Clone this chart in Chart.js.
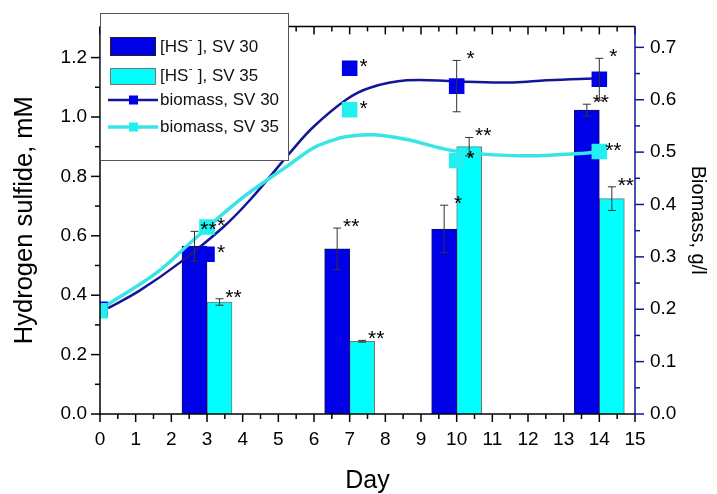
<!DOCTYPE html>
<html>
<head>
<meta charset="utf-8">
<script src="https://cdn.jsdelivr.net/npm/chart.js@4.4.0/dist/chart.umd.min.js"></script>
<style>body{margin:0;background:#fff}</style>
</head>
<body>
<canvas id="chart" width="717" height="494"></canvas>
<script>
// sampling days for hydrogen sulfide
var days = [3, 7, 10, 14];
var hs30 = [0.565, 0.556, 0.623, 1.023];
var hs30Err = [0.05, 0.07, 0.08, 0.02];
var hs35 = [0.377, 0.245, 0.9, 0.725];
var hs35Err = [0.011, 0.003, 0.031, 0.04];
var hs30Stars = ['**', '**', '*', '**'];
var hs35Stars = ['**', '**', '**', '**'];

// biomass measurements
var bioDays = [0, 3, 7, 10, 14];
var bio30 = [0.2, 0.305, 0.66, 0.626, 0.639];
var bio30Err = [0, 0, 0, 0.049, 0.04];
var bio35 = [0.197, 0.357, 0.581, 0.484, 0.501];
var bio30Stars = ['', '*', '*', '*', '*'];
var bio35Stars = ['', '*', '*', '*', '**'];

// fitted biomass curves
var fit30Days = [0.23, 1.12, 2.24, 3.46, 4.21, 5.33, 5.98, 6.92, 7.57, 8.6, 10, 11.59, 12.52, 14];
var fit30Vals = [0.202, 0.236, 0.289, 0.357, 0.409, 0.499, 0.548, 0.601, 0.623, 0.637, 0.635, 0.633, 0.637, 0.641];
var fit35Days = [0.19, 1.59, 2.52, 3.92, 5.33, 5.98, 6.45, 6.92, 7.66, 8.6, 9.53, 10.28, 11.77, 13.08, 14];
var fit35Vals = [0.208, 0.27, 0.326, 0.409, 0.477, 0.508, 0.521, 0.53, 0.533, 0.524, 0.508, 0.499, 0.493, 0.496, 0.5];

var BLUE = '#0000e8', NAVY = '#15159a', CYAN = '#00ffff', CYAN_LINE = '#38e4e4';
var FONT = '"Liberation Sans", Arial, sans-serif';

function pts(xs, ys) {
  return xs.map(function (d, i) { return { x: d, y: ys[i] }; });
}

var extras = {
  id: 'extras',
  beforeDatasetDraw: function (chart, args) {
    // keep the square markers inside the plot frame
    var a = chart.chartArea;
    chart.ctx.save();
    chart.ctx.beginPath();
    chart.ctx.rect(a.left, a.top, a.right - a.left, a.bottom - a.top);
    chart.ctx.clip();
  },
  afterDatasetDraw: function (chart) {
    chart.ctx.restore();
  },
  afterDatasetsDraw: function (chart) {
    var ctx = chart.ctx, a = chart.chartArea;
    var sx = chart.scales.x, sy = chart.scales.y, sy1 = chart.scales.y1;
    ctx.save();

    function line(x1, y1, x2, y2) {
      ctx.beginPath(); ctx.moveTo(x1, y1); ctx.lineTo(x2, y2); ctx.stroke();
    }
    function errBar(px, top, bot) {
      ctx.strokeStyle = '#333'; ctx.lineWidth = 1;
      line(px, top, px, bot);
      line(px - 4, top, px + 4, top);
      line(px - 4, bot, px + 4, bot);
    }
    function stars(txt, px, py) {
      if (!txt) return;
      ctx.fillStyle = '#000';
      ctx.font = '21px ' + FONT;
      ctx.textAlign = 'center';
      ctx.textBaseline = 'alphabetic';
      ctx.fillText(txt, px + 14, py - 7 + 12);
    }

    // bars: error bars and stars
    [[0, hs30, hs30Err, hs30Stars], [1, hs35, hs35Err, hs35Stars]].forEach(function (s) {
      var meta = chart.getDatasetMeta(s[0]);
      meta.data.forEach(function (el, i) {
        var top = sy.getPixelForValue(s[1][i] + s[2][i]);
        var bot = sy.getPixelForValue(s[1][i] - s[2][i]);
        errBar(el.x, top, bot);
        stars(s[3][i], el.x, top);
      });
    });
    // biomass points
    [[4, bio30, bio30Err, bio30Stars], [5, bio35, null, bio35Stars]].forEach(function (s) {
      var meta = chart.getDatasetMeta(s[0]);
      meta.data.forEach(function (el, i) {
        var top = el.y;
        if (s[2] && s[2][i]) {
          top = sy1.getPixelForValue(s[1][i] + s[2][i]);
          errBar(el.x, top, sy1.getPixelForValue(s[1][i] - s[2][i]));
        }
        stars(s[3][i], el.x, top);
      });
    });

    // frame and ticks
    ctx.strokeStyle = '#000'; ctx.lineWidth = 1.5;
    line(a.left, a.top, a.left, a.bottom + 1);
    line(a.left, a.bottom, a.right, a.bottom);
    line(a.left, a.top, a.right, a.top);
    for (var d = 0; d <= 15; d += 0.5) {
      var px = sx.getPixelForValue(d), len = d % 1 === 0 ? 8 : 5;
      line(px, a.bottom, px, a.bottom + len);
      line(px, a.top, px, a.top + len);
    }
    for (var k = 0; k <= 12; k++) {
      var py = sy.getPixelForValue(k / 10);
      line(a.left - (k % 2 === 0 ? 9 : 5), py, a.left, py);
    }
    ctx.strokeStyle = NAVY;
    line(a.right, a.top, a.right, a.bottom + 1);
    for (k = 0; k <= 14; k++) {
      py = sy1.getPixelForValue(k * 0.05);
      line(a.right, py, a.right + (k % 2 === 0 ? 9 : 5), py);
    }

    // legend box
    var bx = a.left, by = 13, bw = 188, bh = 147;
    ctx.fillStyle = '#fff'; ctx.fillRect(bx, by, bw, bh);
    ctx.strokeStyle = '#555'; ctx.lineWidth = 1;
    ctx.strokeRect(bx + 0.5, by + 0.5, bw, bh);

    ctx.font = '17px ' + FONT; ctx.textAlign = 'left'; ctx.textBaseline = 'middle';
    function hsLabel(tx, ty, sv) {
      ctx.fillStyle = '#111';
      ctx.font = '17px ' + FONT;
      ctx.fillText('[HS', tx, ty);
      var w = ctx.measureText('[HS').width;
      ctx.font = '11px ' + FONT;
      ctx.fillText('-', tx + w + 0.5, ty - 7);
      var w2 = ctx.measureText('-').width;
      ctx.font = '17px ' + FONT;
      ctx.fillText(' ], ' + sv, tx + w + w2 + 1, ty);
    }
    ctx.fillStyle = BLUE; ctx.fillRect(bx + 10, 37, 45, 18);
    ctx.strokeStyle = '#222'; ctx.strokeRect(bx + 10.5, 37.5, 45, 18);
    hsLabel(bx + 60, 47, 'SV 30');
    ctx.fillStyle = CYAN; ctx.fillRect(bx + 10, 68, 45, 16);
    ctx.strokeStyle = '#777'; ctx.strokeRect(bx + 10.5, 68.5, 45, 16);
    hsLabel(bx + 60, 76, 'SV 35');

    [[100, NAVY, BLUE, 2.5, 'biomass, SV 30'], [127, CYAN_LINE, '#22f0f0', 3.5, 'biomass, SV 35']].forEach(function (r) {
      ctx.strokeStyle = r[1]; ctx.lineWidth = r[3];
      line(bx + 8, r[0], bx + 58, r[0]);
      ctx.fillStyle = r[2]; ctx.fillRect(bx + 29, r[0] - 4.5, 9, 9);
      ctx.fillStyle = '#111'; ctx.font = '17px ' + FONT;
      ctx.fillText(r[4], bx + 60, r[0]);
    });

    ctx.restore();
  }
};

new Chart(document.getElementById('chart').getContext('2d'), {
  type: 'line',
  data: {
    datasets: [{
      type: 'bar', label: '[HS-], SV 30', data: pts(days, hs30),
      backgroundColor: BLUE, borderColor: '#10106a', borderWidth: 1,
      barThickness: 25, yAxisID: 'y', order: 5
    }, {
      type: 'bar', label: '[HS-], SV 35', data: pts(days, hs35),
      backgroundColor: CYAN, borderColor: '#777', borderWidth: 1,
      barThickness: 25, yAxisID: 'y', order: 6
    }, {
      label: 'fit SV 30', data: pts(fit30Days, fit30Vals), yAxisID: 'y1',
      borderColor: NAVY, borderWidth: 2.5, pointRadius: 0,
      tension: 0.4, order: 4
    }, {
      label: 'fit SV 35', data: pts(fit35Days, fit35Vals), yAxisID: 'y1',
      borderColor: CYAN_LINE, borderWidth: 3.5, pointRadius: 0,
      tension: 0.4, order: 3
    }, {
      label: 'biomass, SV 30', data: pts(bioDays, bio30), yAxisID: 'y1',
      showLine: false, pointStyle: 'rect', pointRadius: 11,
      backgroundColor: BLUE, borderWidth: 0, order: 2
    }, {
      label: 'biomass, SV 35', data: pts(bioDays, bio35), yAxisID: 'y1',
      showLine: false, pointStyle: 'rect', pointRadius: 11,
      backgroundColor: '#22f0f0', borderWidth: 0, order: 1
    }]
  },
  options: {
    responsive: false,
    animation: false,
    devicePixelRatio: 1,
    layout: { padding: { top: 15, left: 0, right: 0, bottom: 0 } },
    plugins: { legend: { display: false }, tooltip: { enabled: false } },
    scales: {
      x: {
        type: 'linear', min: 0, max: 15, offset: false,
        grid: { display: false, drawTicks: false }, border: { display: false },
        ticks: { stepSize: 1, color: '#000', font: { size: 19, family: FONT }, padding: 14, maxRotation: 0 },
        title: { display: true, text: 'Day', color: '#000', font: { size: 25, family: FONT, lineHeight: 1 }, padding: { top: 0, bottom: 0 } },
        afterFit: function (s) { s.height = 80; }
      },
      y: {
        position: 'left', min: 0, max: 1.305,
        grid: { display: false, drawTicks: false }, border: { display: false },
        ticks: { stepSize: 0.2, includeBounds: false, color: '#000', font: { size: 19, family: FONT }, padding: 13,
          callback: function (v) { return v.toFixed(1); } },
        title: { display: true, text: 'Hydrogen sulfide, mM', color: '#000', font: { size: 25.5, family: FONT, lineHeight: 1 }, padding: { top: 12, bottom: 0 } },
        afterFit: function (s) { s.width = 100; }
      },
      y1: {
        position: 'right', min: 0, max: 0.74,
        grid: { display: false, drawTicks: false }, border: { display: false },
        ticks: { stepSize: 0.1, includeBounds: false, color: '#000', font: { size: 19, family: FONT }, padding: 15,
          callback: function (v) { return v.toFixed(1); } },
        title: { display: true, text: 'Biomass, g/l', color: '#000', font: { size: 20, family: FONT, lineHeight: 1 }, padding: { top: 9, bottom: 0 } },
        afterFit: function (s) { s.width = 82; }
      }
    }
  },
  plugins: [extras]
});
</script>
</body>
</html>
